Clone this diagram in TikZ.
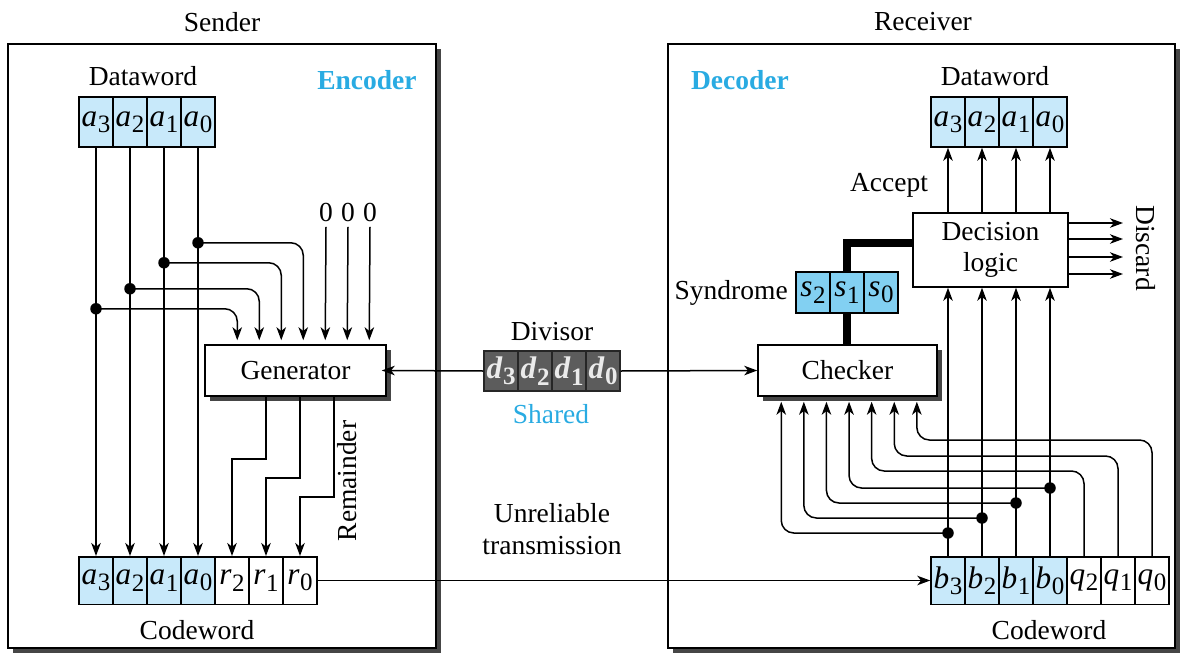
\documentclass[tikz,border=0pt]{standalone}
\usepackage{fontspec}
\setmainfont{Liberation Serif}
\usetikzlibrary{arrows.meta,calc,shadows}
\definecolor{cellblue}{RGB}{200,233,250}
\definecolor{synblue}{RGB}{130,208,242}
\definecolor{labblue}{RGB}{41,171,226}
\definecolor{dgray}{RGB}{92,92,92}
\definecolor{shad}{RGB}{70,70,70}
\newcommand\vb[2]{\textit{#1}\kern0.2pt\raisebox{-0.45ex}{\fontsize{10}{10}\selectfont #2}}
\begin{document}
\begin{tikzpicture}[x=0.4pt,y=-0.4pt,
  lab/.style={font=\fontsize{11}{12.8}\selectfont, inner sep=0pt},
  blab/.style={font=\fontsize{11}{13}\selectfont\bfseries, text=labblue, inner sep=0pt},
  cell/.style={draw, line width=0.6pt, minimum width=13.6pt, minimum height=20pt, inner sep=0pt, font=\fontsize{12.5}{14}\selectfont},
  bcell/.style={cell, fill=cellblue},
  ccell/.style={cell, minimum height=19pt},
  scell/.style={cell, fill=synblue, minimum height=16.4pt},
  dcell/.style={cell, fill=dgray, draw=black!85, minimum height=16pt, text=white!92!black},
  ln/.style={line width=0.6pt},
  arr/.style={ln, -{Stealth[length=5.2pt,width=3.8pt,inset=1.5pt]}},
  box/.style={draw, line width=0.6pt, fill=white, inner sep=0pt, font=\fontsize{11}{12.5}\selectfont},
  shbox/.style={box, drop shadow={shadow xshift=2pt, shadow yshift=-2pt, fill=shad, opacity=1}},
  dot/.style={circle, fill=black, inner sep=0pt, minimum size=4.6pt},
  thick line/.style={line width=3.2pt},
]
\useasboundingbox (0,0) rectangle (1180,653);

% outer boxes
\node[shbox, minimum width=171.2pt, minimum height=241.6pt] (sendbox) at (222,346) {};
\node[shbox, minimum width=202.8pt, minimum height=241.6pt] (recvbox) at (921.5,346) {};
\node[lab] (sender) at (222,22) {Sender};
\node[lab] (receiver) at (923,22) {Receiver};
\node[blab] (encoder) at (367,80) {Encoder};
\node[blab] (decoder) at (740,80) {Decoder};

% ---------- sender ----------
\node[lab] (dwlab) at (143,76) {Dataword};
\node[bcell] (dwA3) at (96,122) {\vb{a}{3}};
\node[bcell] (dwA2) at (130,122) {\vb{a}{2}};
\node[bcell] (dwA1) at (164,122) {\vb{a}{1}};
\node[bcell] (dwA0) at (198,122) {\vb{a}{0}};

\node[ccell, fill=cellblue] (cwA3) at (96,580.5) {\vb{a}{3}};
\node[ccell, fill=cellblue] (cwA2) at (130,580.5) {\vb{a}{2}};
\node[ccell, fill=cellblue] (cwA1) at (164,580.5) {\vb{a}{1}};
\node[ccell, fill=cellblue] (cwA0) at (198,580.5) {\vb{a}{0}};
\node[ccell, fill=white] (cwR2) at (232,580.5) {\vb{r}{2}};
\node[ccell, fill=white] (cwR1) at (266,580.5) {\vb{r}{1}};
\node[ccell, fill=white] (cwR0) at (300,580.5) {\vb{r}{0}};
\node[lab] (cwlab) at (197,630) {Codeword};

\node[shbox, minimum width=72.4pt, minimum height=20.4pt] (gen) at (295.5,370.5) {Generator};

\foreach \k/\o in {1/33,2/55,3/77,4/99,5/121,6/143,7/165}
  \coordinate (gi\k) at ($(gen.north west)+(\o,-4)$);

\node[lab] (z1) at (326,212) {0};
\node[lab] (z2) at (348,212) {0};
\node[lab] (z3) at (370,212) {0};
\draw[arr] ([yshift=-2pt]z1.south) -- (gi5);
\draw[arr] ([yshift=-2pt]z2.south) -- (gi6);
\draw[arr] ([yshift=-2pt]z3.south) -- (gi7);

\foreach \n in {A3,A2,A1,A0}
  \draw[arr] (dw\n.south) -- (cw\n.north);

\coordinate (ja3) at ($(dwA3.south)+(0,161)$);
\coordinate (ja2) at ($(dwA2.south)+(0,141)$);
\coordinate (ja1) at ($(dwA1.south)+(0,115)$);
\coordinate (ja0) at ($(dwA0.south)+(0,95)$);
\draw[arr, rounded corners=5pt] (ja3) -| (gi1);
\draw[arr, rounded corners=5pt] (ja2) -| (gi2);
\draw[arr, rounded corners=5pt] (ja1) -| (gi3);
\draw[arr, rounded corners=5pt] (ja0) -| (gi4);
\node[dot] (da3) at (ja3) {};
\node[dot] (da2) at (ja2) {};
\node[dot] (da1) at (ja1) {};
\node[dot] (da0) at (ja0) {};

\draw[arr] (gen.south -| cwR1) -- ++(0,62) -| (cwR2.north);
\draw[arr] (gen.south -| cwR0) -- ++(0,81) -| (cwR1.north);
\draw[arr] ($(gen.south -| cwR0)+(34,0)$) -- ++(0,100) -| (cwR0.north);
\node[lab, rotate=90] (rem) at (347,481) {Remainder};

% ---------- middle ----------
\node[lab] (divlab) at (552,332) {Divisor};
\node[dcell] (dD3) at (501,371) {\textbf{\vb{d}{3}}};
\node[dcell] (dD2) at (535,371) {\textbf{\vb{d}{2}}};
\node[dcell] (dD1) at (569,371) {\textbf{\vb{d}{1}}};
\node[dcell] (dD0) at (603,371) {\textbf{\vb{d}{0}}};
\node[lab, text=labblue] (shared) at (551,414) {Shared};
\node[lab, align=center] (unrel) at (552,529) {Unreliable\\transmission};

\draw[arr, shorten >=-2pt] (dD3.west) -- (gen.east);

% ---------- receiver ----------
\node[lab] (rdwlab) at (995,76) {Dataword};
\node[bcell] (rdA3) at (948,122) {\vb{a}{3}};
\node[bcell] (rdA2) at (982,122) {\vb{a}{2}};
\node[bcell] (rdA1) at (1016,122) {\vb{a}{1}};
\node[bcell] (rdA0) at (1050,122) {\vb{a}{0}};

\node[box, minimum width=62pt, minimum height=29.6pt, align=center] (dec) at (990.5,250) {Decision\\logic};
\node[lab] (accept) at (889,185) {Accept};

\node[shbox, minimum width=71.6pt, minimum height=20.4pt] (chk) at (847.5,370.5) {Checker};
\draw[arr] (dD0.east) -- (chk.west);

\node[scell] (sS2) at (813,292.5) {\vb{s}{2}};
\node[scell] (sS1) at (847,292.5) {\vb{s}{1}};
\node[scell] (sS0) at (881,292.5) {\vb{s}{0}};
\node[lab, anchor=east] (synlab) at ($(sS2.west)+(-7,0)$) {Syndrome};

\draw[thick line] (sS1.north) |- ($(dec.north west)+(0,31)$);
\draw[thick line] (sS1.south) -- (sS1.south |- chk.north);

\foreach \n in {A3,A2,A1,A0}
  \draw[arr] (dec.north -| rd\n) -- (rd\n.south);

\coordinate (dk1) at (1123,223);
\coordinate (dk2) at (1123,239);
\coordinate (dk3) at (1123,257);
\coordinate (dk4) at (1123,274);
\foreach \k in {1,2,3,4}
  \draw[arr] (dec.east |- dk\k) -- (dk\k);
\node[lab, rotate=-90] (discard) at (1146,248) {Discard};

\node[ccell, fill=cellblue] (cwB3) at (948,580.5) {\vb{b}{3}};
\node[ccell, fill=cellblue] (cwB2) at (982,580.5) {\vb{b}{2}};
\node[ccell, fill=cellblue] (cwB1) at (1016,580.5) {\vb{b}{1}};
\node[ccell, fill=cellblue] (cwB0) at (1050,580.5) {\vb{b}{0}};
\node[ccell, fill=white] (cwQ2) at (1084,580.5) {\vb{q}{2}};
\node[ccell, fill=white] (cwQ1) at (1118,580.5) {\vb{q}{1}};
\node[ccell, fill=white] (cwQ0) at (1152,580.5) {\vb{q}{0}};
\node[lab] (rcwlab) at (1049,630) {Codeword};

\draw[arr] (cwR0.east) -- (cwB3.west);

\foreach \k/\o in {1/24,2/46.6,3/69.2,4/91.8,5/114.4,6/137,7/159.6}
  \coordinate (ci\k) at ($(chk.south west)+(\o,5)$);

\foreach \n in {B3,B2,B1,B0}
  \draw[arr] (cw\n.north) -- (cw\n.north |- dec.south);

\coordinate (jb3) at ($(cwB3.north)+(0,-23)$);
\coordinate (jb2) at ($(cwB2.north)+(0,-38)$);
\coordinate (jb1) at ($(cwB1.north)+(0,-53)$);
\coordinate (jb0) at ($(cwB0.north)+(0,-68)$);
\draw[arr, rounded corners=5pt] (jb3) -| (ci1);
\draw[arr, rounded corners=5pt] (jb2) -| (ci2);
\draw[arr, rounded corners=5pt] (jb1) -| (ci3);
\draw[arr, rounded corners=5pt] (jb0) -| (ci4);
\draw[arr, rounded corners=5pt] (cwQ2.north) -- ++(0,-85) -| (ci5);
\draw[arr, rounded corners=5pt] (cwQ1.north) -- ++(0,-100) -| (ci6);
\draw[arr, rounded corners=5pt] (cwQ0.north) -- ++(0,-116) -| (ci7);
\node[dot] (db3) at (jb3) {};
\node[dot] (db2) at (jb2) {};
\node[dot] (db1) at (jb1) {};
\node[dot] (db0) at (jb0) {};
\end{tikzpicture}
\end{document}
